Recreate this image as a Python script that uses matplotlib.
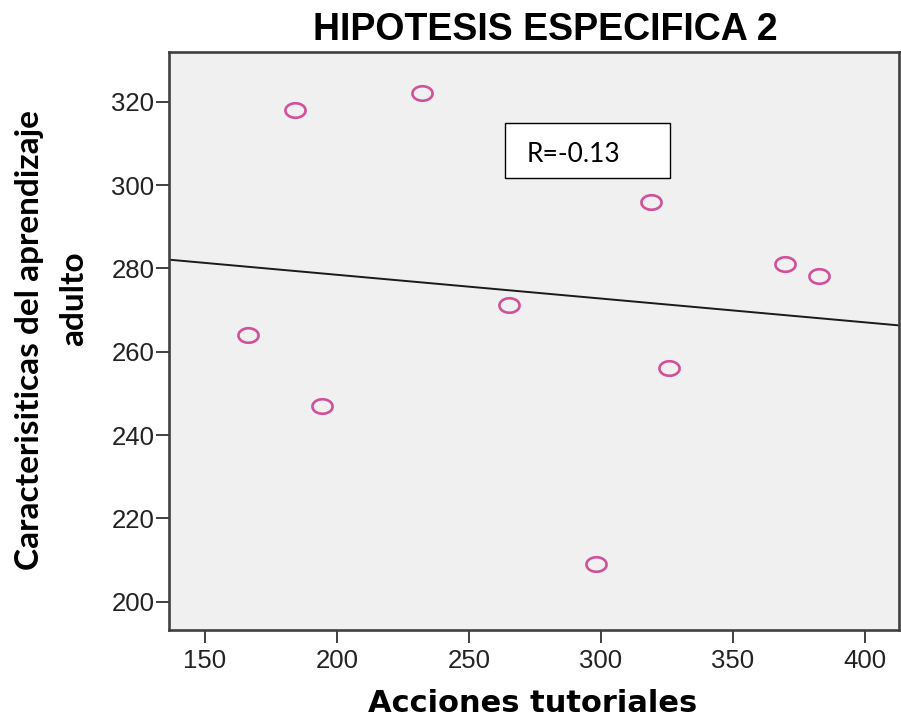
import numpy as np
import matplotlib
matplotlib.use("Agg")
import matplotlib.pyplot as plt
from matplotlib.path import Path
from matplotlib.patches import Rectangle

# datos
acciones = [166.4, 184.1, 194.2, 232.1, 265.2, 318.9, 325.9, 298.0, 369.7, 382.7]
caracteristicas = [264.0, 318.0, 247.0, 322.0, 271.2, 296.0, 256.0, 209.1, 281.0, 278.2]

x_ticks = [150, 200, 250, 300, 350, 400]
y_ticks = [200, 220, 240, 260, 280, 300, 320]

titulo = "HIPOTESIS ESPECIFICA 2"
xlab = "Acciones tutoriales"
ylab1 = "Caracterisiticas del aprendizaje"
ylab2 = "adulto"
r_txt = "R=-0.13"

plt.rcParams['font.family'] = ['Liberation Sans', 'DejaVu Sans']

fig = plt.figure(figsize=(9.01, 7.24), dpi=100)
ax = fig.add_axes([169/901, 1-630/724, 730/901, (630-51.7)/724])
ax.set_facecolor("#f0f0f0")

# marcador eliptico
t = np.linspace(0, 2*np.pi, 60)
elipse = Path(np.column_stack([np.cos(t), 0.72*np.sin(t)]))

ax.plot(acciones, caracteristicas, linestyle="none", marker=elipse, ms=14.5,
        mfc="none", mec="#d0509a", mew=1.9, zorder=3)

# recta de ajuste
m, b = np.polyfit(acciones, caracteristicas, 1)
xl = np.array([136.4, 412.9])
ax.plot(xl, m*xl + b, color="#1a1a1a", lw=1.4, zorder=2)

ax.set_xlim(136.4, 412.9)
ax.set_ylim(193.2, 332.0)
ax.set_xticks(x_ticks)
ax.set_yticks(y_ticks)

for s in ax.spines.values():
    s.set_color("#404040")
    s.set_linewidth(1.9)

ax.tick_params(axis="both", direction="out", length=9.5, width=1.4, color="#404040",
               labelsize=18.5, labelcolor="#222222")
ax.tick_params(axis="x", pad=4)
ax.tick_params(axis="y", pad=1)

# cuadro del coeficiente
ax.add_patch(Rectangle((0.460, 0.782), 0.226, 0.095, transform=ax.transAxes,
                       facecolor="white", edgecolor="black", lw=1.0, zorder=4))
ax.text(0.490, 0.822, r_txt, transform=ax.transAxes, fontsize=19, family=['Lato', 'DejaVu Sans'],
        va="center", ha="left", zorder=5)

fig.text(545/901, 1-30/724, titulo, ha="center", va="center", fontsize=27,
         fontweight="bold", family=['Liberation Sans Narrow', 'Liberation Sans', 'DejaVu Sans'])
fig.text(533/901, 1-704/724, xlab, ha="center", va="center", fontsize=22,
         fontweight="bold", family=['DejaVu Sans'])
fig.text(30/901, 1-340/724, ylab1, ha="center", va="center", rotation=90, fontsize=24,
         fontweight="bold", family=['Lato', 'DejaVu Sans'])
fig.text(74/901, 1-299/724, ylab2, ha="center", va="center", rotation=90, fontsize=24,
         fontweight="bold", family=['Lato', 'DejaVu Sans'])

fig.savefig("out.png", dpi=100)
